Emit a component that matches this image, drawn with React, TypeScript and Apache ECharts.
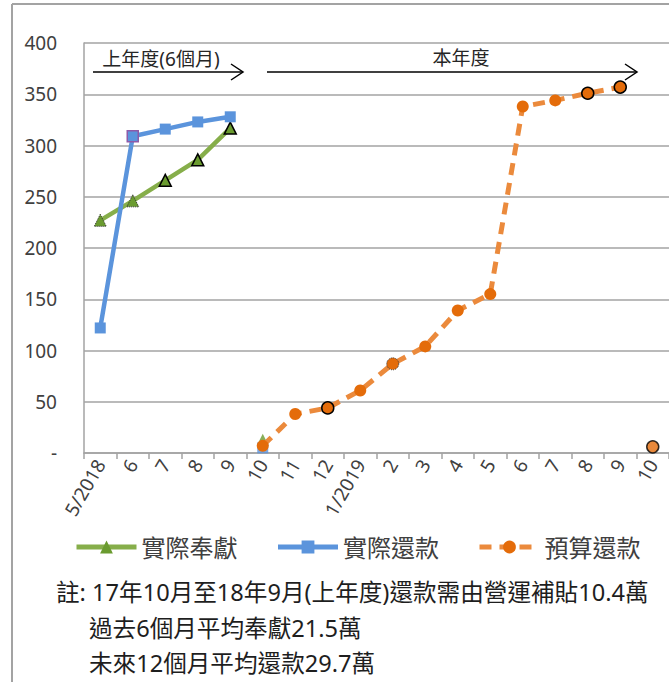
import React, { useEffect, useRef } from "react";
import * as echarts from "echarts";

const months = ["5/2018", "6", "7", "8", "9", "10", "11", "12", "1/2019", "2", "3", "4", "5", "6", "7", "8", "9", "10"];
const actualDonation = [227, 246, 266, 286, 317, null, null, null, null, null, null, null, null, null, null, null, null, null];
const actualDonationNewYear = [null, null, null, null, null, 13, null, null, null, null, null, null, null, null, null, null, null, null];
const actualRepay = [122, 309, 316, 323, 328, null, null, null, null, null, null, null, null, null, null, null, null, null];
const actualRepayNewYear = [null, null, null, null, null, 5, null, null, null, null, null, null, null, null, null, null, null, null];
const budgetRepay = [null, null, null, null, null, 7, 38, 44, 61, 87, 104, 139, 155, 338, 344, 351, 357, null];
const budgetRepayNext = [null, null, null, null, null, null, null, null, null, null, null, null, null, null, null, null, null, 6];
const seriesNames = ["實際奉獻", "實際還款", "預算還款"];
const periodLabels = ["上年度(6個月)", "本年度"];
const notes = [
  "註: 17年10月至18年9月(上年度)還款需由營運補貼10.4萬",
  "過去6個月平均奉獻21.5萬",
  "未來12個月平均還款29.7萬",
];

const FONT = "'Noto Sans', 'Noto Sans CJK TC', sans-serif";
const GRID = "#A3A3A3";

export default function App() {
  const ref = useRef<HTMLDivElement>(null);
  useEffect(() => {
    if (!ref.current) return;
    const chart = echarts.init(ref.current, null, { renderer: "svg" });

    const outlined = (arr: (number | null)[], idx: number[], dotted: number[] = [], color = "#000") =>
      arr.map((v, i) => {
        if (v === null) return null;
        if (idx.includes(i)) return { value: v, itemStyle: { borderColor: color, borderWidth: 1.5 } };
        if (dotted.includes(i)) return { value: v, itemStyle: { borderColor: "#333", borderWidth: 1, borderType: "dotted" } };
        return v;
      });

    const arrow = (x1: number, x2: number, y: number) => [
      { type: "line", shape: { x1, y1: y, x2, y2: y }, style: { stroke: "#000", lineWidth: 1.5 }, silent: true },
      { type: "polyline", shape: { points: [[x2 - 12, y - 8], [x2, y], [x2 - 12, y + 8]] }, style: { stroke: "#000", lineWidth: 1.5, fill: "none" }, silent: true },
    ];

    const noteStyle = (text: string) => ({ text, fill: "#1E1E1E", font: `23.6px ${FONT}`, align: "left", verticalAlign: "middle" });

    const option: any = {
      animation: false,
      textStyle: { fontFamily: FONT },
      grid: { left: 84, top: 43, width: 594, height: 410, containLabel: false },
      legend: {
        data: seriesNames,
        left: 74,
        top: 535,
        itemWidth: 60,
        itemHeight: 16,
        itemGap: 38,
        padding: 0,
        lineStyle: { width: 5 },
        textStyle: { fontSize: 24, color: "#404040", fontFamily: FONT },
      },
      xAxis: {
        type: "category",
        data: months,
        boundaryGap: true,
        axisLine: { lineStyle: { color: GRID, width: 1.5 } },
        axisTick: { show: true, length: 6, lineStyle: { color: GRID, width: 1.5 } },
        axisLabel: {
          interval: 0,
          rotate: 60,
          fontSize: 19,
          color: "#404040",
          margin: 8,
          padding: [8, 0, 0, 0],
          fontFamily: FONT,
        },
      },
      yAxis: {
        type: "value",
        min: 0,
        max: 400,
        interval: 50,
        axisLine: { show: true, lineStyle: { color: GRID, width: 1.5 } },
        axisTick: { show: false },
        splitLine: { lineStyle: { color: GRID, width: 1.5 } },
        axisLabel: {
          fontSize: 19,
          color: "#404040",
          margin: 27,
          fontFamily: FONT,
          formatter: (v: number) => (v === 0 ? "-" : String(v)),
        },
      },
      series: [
        {
          name: seriesNames[0],
          type: "line",
          data: outlined(actualDonation, [2, 3, 4], [0, 1]),
          symbol: "triangle",
          symbolSize: 12,
          lineStyle: { color: "#86AE4A", width: 4.5 },
          itemStyle: { color: "#6A9B2F" },
          z: 2,
        },
        {
          name: "實際奉獻(本年度)",
          type: "scatter",
          data: actualDonationNewYear,
          symbol: "triangle",
          symbolSize: 12,
          itemStyle: { color: "#6A9B2F" },
          z: 2,
        },
        {
          name: seriesNames[1],
          type: "line",
          data: outlined(actualRepay, [1], [], "#8E5AA8"),
          symbol: "rect",
          symbolSize: 11,
          lineStyle: { color: "#5B94DC", width: 4.5 },
          itemStyle: { color: "#5B94DC" },
          z: 3,
        },
        {
          name: "實際還款(本年度)",
          type: "scatter",
          data: actualRepayNewYear,
          symbol: "rect",
          symbolSize: 11,
          itemStyle: { color: "#5B94DC" },
          z: 3,
        },
        {
          name: seriesNames[2],
          type: "line",
          data: outlined(budgetRepay, [7, 15, 16], [9]),
          symbol: "circle",
          symbolSize: 12,
          lineStyle: { color: "#EB8A3C", width: 5, type: [12, 8] },
          itemStyle: { color: "#E46C0A" },
          z: 4,
        },
        {
          name: "預算還款(次年度)",
          type: "scatter",
          data: outlined(budgetRepayNext, [17]),
          symbol: "circle",
          symbolSize: 12,
          itemStyle: { color: "#E46C0A" },
          z: 4,
        },
      ],
      graphic: [
        { type: "line", shape: { x1: 12, y1: 4, x2: 669, y2: 4 }, style: { stroke: GRID, lineWidth: 2 }, silent: true },
        { type: "line", shape: { x1: 12, y1: 4, x2: 12, y2: 682 }, style: { stroke: GRID, lineWidth: 2 }, silent: true },
        ...arrow(93, 243, 72),
        ...arrow(267, 637, 72),
        {
          type: "text",
          x: 161,
          y: 59,
          style: { text: periodLabels[0], fill: "#262626", font: `19px ${FONT}`, align: "center", verticalAlign: "middle" },
          silent: true,
        },
        {
          type: "text",
          x: 461,
          y: 58,
          style: { text: periodLabels[1], fill: "#262626", font: `19px ${FONT}`, align: "center", verticalAlign: "middle" },
          silent: true,
        },
        { type: "text", x: 56, y: 592, style: noteStyle(notes[0]), silent: true },
        { type: "text", x: 89, y: 628, style: noteStyle(notes[1]), silent: true },
        { type: "text", x: 89, y: 663, style: noteStyle(notes[2]), silent: true },
      ],
    };
    chart.setOption(option);
    return () => chart.dispose();
  }, []);
  return (
    <div
      ref={ref}
      style={{ position: "absolute", left: 0, top: 0, width: 669, height: 682, background: "#fff" }}
    />
  );
}
